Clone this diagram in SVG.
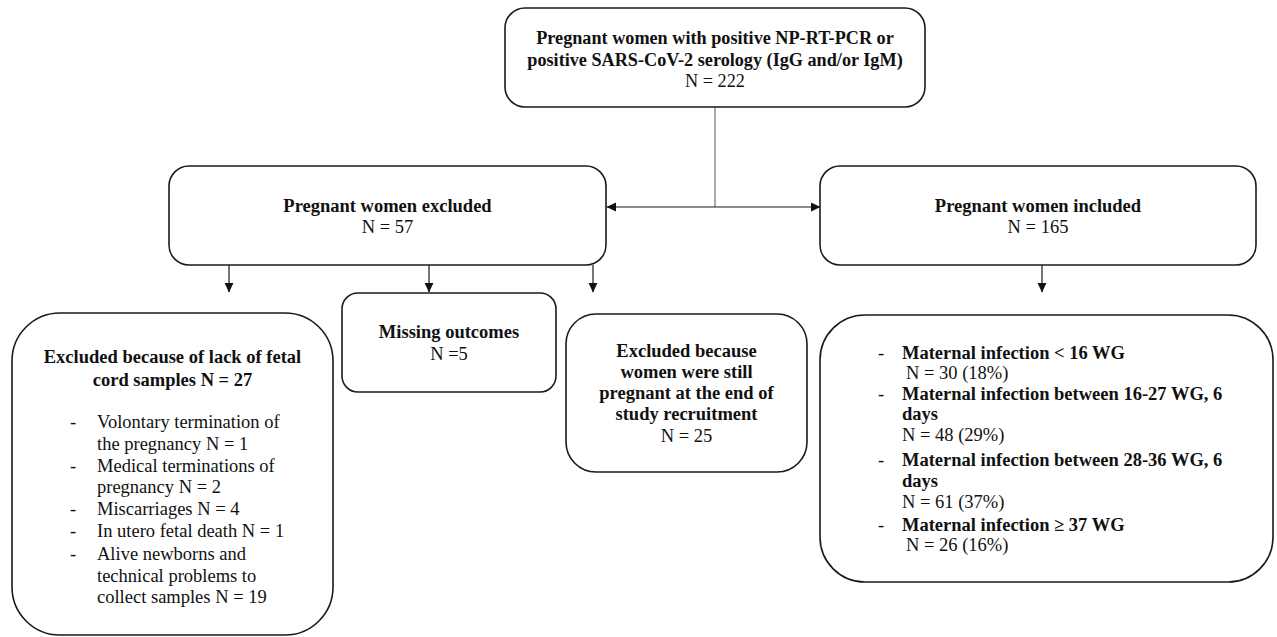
<svg xmlns="http://www.w3.org/2000/svg" width="1277" height="637" viewBox="0 0 1277 637">
<style>
.box{fill:#fff;stroke:#1a1a1a;stroke-width:1.6}
text{font-family:"Liberation Serif","Times New Roman",serif;font-size:18.5px;fill:#111}
.b{font-weight:bold}
.c{text-anchor:middle}
.t{font-size:18.2px}
.ln{stroke:#1a1a1a;stroke-width:1.2;fill:none}
.gl{stroke:#888;stroke-width:1.4;fill:none}
</style>
<defs>
<marker id="ah" markerWidth="10" markerHeight="10" refX="9" refY="5" orient="auto" markerUnits="userSpaceOnUse">
<path d="M0,0.6 L9.5,5 L0,9.4 Z" fill="#111"/>
</marker>
</defs>
<rect width="1277" height="637" fill="#fff"/>
<g id="connectors">
<path class="gl" d="M715,107 V207"/>
<path class="ln" d="M715,207 H607" marker-end="url(#ah)"/>
<path class="ln" d="M715,207 H820" marker-end="url(#ah)"/>
<path class="ln" d="M229,265 V292" marker-end="url(#ah)"/>
<path class="ln" d="M429,265 V292" marker-end="url(#ah)"/>
<path class="ln" d="M593,265 V292" marker-end="url(#ah)"/>
<path class="ln" d="M1042,265 V292" marker-end="url(#ah)"/>
</g>
<g id="top">
<rect class="box" x="505" y="8" width="420" height="99" rx="20"/>
<text class="b c t" x="715" y="44">Pregnant women with positive NP-RT-PCR or</text>
<text class="b c t" x="715" y="66">positive SARS-CoV-2 serology (IgG and/or IgM)</text>
<text class="c t" x="715" y="87">N = 222</text>
</g>
<g id="excluded">
<rect class="box" x="169" y="166" width="437" height="99" rx="20"/>
<text class="b c" x="387.5" y="212">Pregnant women excluded</text>
<text class="c" x="387.5" y="233">N = 57</text>
</g>
<g id="included">
<rect class="box" x="820" y="166" width="436" height="99" rx="20"/>
<text class="b c" x="1038" y="212">Pregnant women included</text>
<text class="c" x="1038" y="233">N = 165</text>
</g>
<g id="lack-cord">
<rect class="box" x="12" y="313" width="321" height="322" rx="48"/>
<text class="b c" x="172.5" y="363">Excluded because of lack of fetal</text>
<text class="b c" x="172.5" y="386">cord samples N = 27</text>
<text x="70" y="428">-</text><text x="97" y="428">Volontary termination of</text>
<text x="97" y="450">the pregnancy N = 1</text>
<text x="70" y="472">-</text><text x="97" y="472">Medical terminations of</text>
<text x="97" y="493">pregnancy N = 2</text>
<text x="70" y="515">-</text><text x="97" y="515">Miscarriages N = 4</text>
<text x="70" y="537">-</text><text x="97" y="537">In utero fetal death N = 1</text>
<text x="70" y="560">-</text><text x="97" y="560">Alive newborns and</text>
<text x="97" y="582">technical problems to</text>
<text x="97" y="603">collect samples N = 19</text>
</g>
<g id="missing">
<rect class="box" x="342" y="293" width="214" height="99" rx="16"/>
<text class="b c" x="449" y="338">Missing outcomes</text>
<text class="c" x="449" y="360">N =5</text>
</g>
<g id="still-pregnant">
<rect class="box" x="566" y="314" width="241" height="158" rx="30"/>
<text class="b c" x="686.5" y="357">Excluded because</text>
<text class="b c" x="686.5" y="378">women were still</text>
<text class="b c" x="686.5" y="399">pregnant at the end of</text>
<text class="b c" x="686.5" y="420">study recruitment</text>
<text class="c" x="686.5" y="442">N = 25</text>
</g>
<g id="infection-timing">
<rect class="box" x="820" y="315" width="453" height="267" rx="45"/>
<text x="878" y="359">-</text><text class="b" x="902" y="359">Maternal infection &lt; 16 WG</text>
<text x="906" y="379">N = 30 (18%)</text>
<text x="878" y="400">-</text><text class="b" x="902" y="400">Maternal infection between 16-27 WG, 6</text>
<text class="b" x="902" y="420">days</text>
<text x="902" y="441">N = 48 (29%)</text>
<text x="878" y="466">-</text><text class="b" x="902" y="466">Maternal infection between 28-36 WG, 6</text>
<text class="b" x="902" y="487">days</text>
<text x="902" y="508">N = 61 (37%)</text>
<text x="878" y="531">-</text><text class="b" x="902" y="531">Maternal infection ≥ 37 WG</text>
<text x="906" y="551">N = 26 (16%)</text>
</g>
</svg>
